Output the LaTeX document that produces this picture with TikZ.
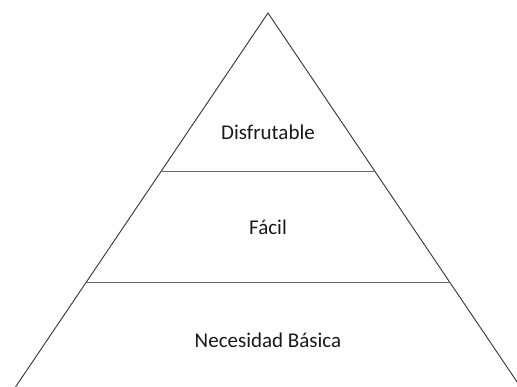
\documentclass[tikz,border=0pt]{standalone}
\usepackage{fontspec}
\setmainfont{Carlito}
\usetikzlibrary{calc}
\begin{document}
\begin{tikzpicture}[x=1pt,y=-1pt,
  edge/.style={draw=black!80,line width=0.9pt},
  divider/.style={draw=black!60,line width=0.7pt},
  label/.style={font=\fontsize{21}{24}\selectfont,text=black!90,inner sep=0pt}]
\useasboundingbox (0,0) rectangle (517,387);
\clip (0,0) rectangle (517,387);
\coordinate (apex) at (268,13);
\coordinate (bl) at (15.5,387);
\coordinate (br) at (520.5,387);
\coordinate (l1) at ($(apex)!0.4225!(bl)$);
\coordinate (r1) at ($(apex)!0.4225!(br)$);
\coordinate (l2) at ($(apex)!0.7193!(bl)$);
\coordinate (r2) at ($(apex)!0.7193!(br)$);
\draw[edge] (bl) -- (apex) -- (br);
\draw[divider] (l1) -- (r1);
\draw[divider] (l2) -- (r2);
\node[label] (top) at (268,132) {Disfrutable};
\node[label] (mid) at (268,227) {Fácil};
\node[label] (bot) at (268,340) {Necesidad Básica};
\end{tikzpicture}
\end{document}
